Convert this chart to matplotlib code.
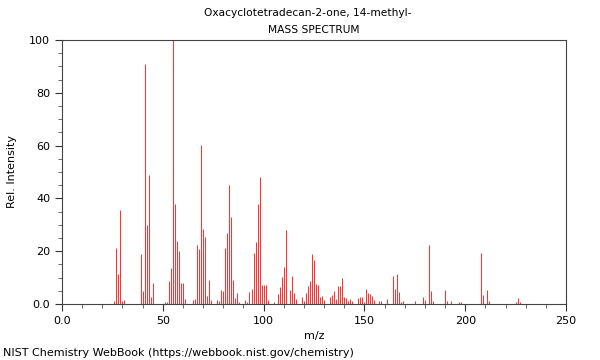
import numpy as np
import matplotlib
matplotlib.use("Agg")
import matplotlib.pyplot as plt

# m/z a relativni intenzity
mz = [26, 27, 28, 29, 30, 31,
      39, 40, 41, 42, 43, 44, 45,
      51, 52, 53, 54, 55, 56, 57, 58, 59, 60, 61,
      65, 66, 67, 68, 69, 70, 71, 72, 73, 74,
      77, 78, 79, 80, 81, 82, 83, 84, 85, 86, 87, 88,
      91, 92, 93, 94, 95, 96, 97, 98, 99, 100, 101, 102,
      105, 107, 108, 109, 110, 111, 113, 114, 115, 116,
      119, 120, 121, 122, 123, 124, 125, 126, 127, 128, 129, 130,
      133, 134, 135, 136, 137, 138, 139, 140, 141, 142, 143, 144,
      147, 148, 149, 150, 151, 152, 153, 154, 155, 157, 158,
      161, 164, 165, 166, 167, 168, 169, 175, 179, 180, 182, 183, 184,
      190, 191, 193, 197, 198, 208, 209, 211, 212, 225, 226, 227]
intenzita = [1.0, 21.3, 11.2, 35.6, 1.1, 1.4,
             19.0, 4.9, 90.9, 29.9, 49.0, 2.8, 8.1,
             0.9, 0.9, 8.8, 13.5, 100.0, 37.9, 23.7, 20.2, 8.1, 8.1, 1.8,
             1.5, 1.8, 22.3, 20.7, 60.2, 28.4, 25.4, 3.0, 9.2, 1.5,
             1.5, 1.2, 5.3, 5.1, 21.1, 26.9, 45.1, 32.8, 9.1, 2.3, 4.0, 0.6,
             1.5, 0.7, 4.7, 5.7, 19.2, 23.6, 37.9, 48.2, 7.2, 7.2, 7.2, 1.5,
             0.7, 3.7, 6.3, 10.2, 14.1, 27.9, 5.2, 10.6, 4.0, 1.8,
             2.7, 1.1, 4.0, 6.7, 8.7, 18.9, 16.7, 7.6, 7.3, 2.5, 2.9, 1.5,
             2.5, 3.3, 4.8, 1.8, 6.9, 7.0, 9.7, 2.5, 2.1, 1.0, 1.8, 1.1,
             2.1, 2.7, 2.7, 0.8, 5.6, 4.3, 3.6, 2.9, 1.4, 1.0, 1.0,
             1.8, 10.7, 5.6, 11.4, 4.5, 0.8, 1.3, 1.0, 2.8, 1.4, 22.3, 4.9, 1.0,
             5.2, 1.3, 1.3, 0.9, 0.9, 19.4, 3.4, 5.2, 1.3, 0.9, 2.3, 0.8]

fig = plt.figure(figsize=(6, 3.6), dpi=100)
ax = fig.add_axes([62/600, 1 - 304/360, 504/600, 264/360])

ax.vlines(mz, 0, intenzita, color='#ff3333', linewidth=0.75)

ax.set_xlim(0, 250)
ax.set_ylim(0, 100)
ax.set_xticks([0, 50, 100, 150, 200, 250])
ax.set_xticklabels(["0.0", "50", "100", "150", "200", "250"])
ax.set_xticks(np.arange(0, 251, 10), minor=True)
ax.set_yticks([0, 20, 40, 60, 80, 100])
ax.set_yticklabels(["0.0", "20", "40", "60", "80", "100"])
ax.set_yticks(np.arange(0, 101, 5), minor=True)
ax.tick_params(which='major', direction='out', length=5, width=0.8, labelsize=8, color='#333333')
ax.tick_params(which='minor', direction='out', length=3, width=0.6, color='#555555')
for s in ax.spines.values():
    s.set_color('#444444')
    s.set_linewidth(0.8)

ax.set_xlabel("m/z", fontsize=8)
ax.set_ylabel("Rel. Intensity", fontsize=8)
ax.yaxis.set_label_coords(-0.09, 0.5)
fig.text(308/600, 1 - 13/360, "Oxacyclotetradecan-2-one, 14-methyl-", ha='center', va='center', fontsize=7.7)
fig.text(314/600, 1 - 30/360, "MASS SPECTRUM", ha='center', va='center', fontsize=7.7)
fig.text(3/600, 1 - 353/360, "NIST Chemistry WebBook (https://webbook.nist.gov/chemistry)", ha='left', va='center', fontsize=8)

fig.savefig("out.png", dpi=100)
